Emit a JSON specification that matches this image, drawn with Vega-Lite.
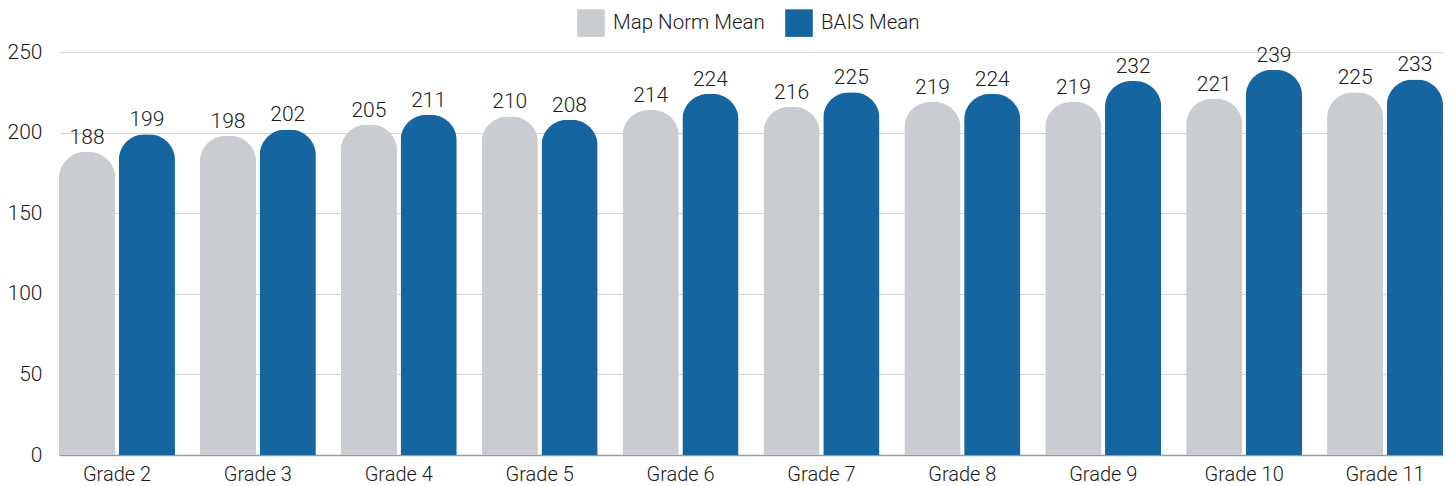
{
  "$schema": "https://vega.github.io/schema/vega-lite/v6.json",
  "autosize": "none",
  "width": 1384,
  "height": 403,
  "padding": {"left": 59, "top": 52, "right": 13, "bottom": 31},
  "background": "white",
  "config": {
    "font": "Roboto",
    "view": {"stroke": null}
  },
  "data": {
    "values": [
      {"grade": "Grade 2", "series": "Map Norm Mean", "value": 188},
      {"grade": "Grade 2", "series": "BAIS Mean", "value": 199},
      {"grade": "Grade 3", "series": "Map Norm Mean", "value": 198},
      {"grade": "Grade 3", "series": "BAIS Mean", "value": 202},
      {"grade": "Grade 4", "series": "Map Norm Mean", "value": 205},
      {"grade": "Grade 4", "series": "BAIS Mean", "value": 211},
      {"grade": "Grade 5", "series": "Map Norm Mean", "value": 210},
      {"grade": "Grade 5", "series": "BAIS Mean", "value": 208},
      {"grade": "Grade 6", "series": "Map Norm Mean", "value": 214},
      {"grade": "Grade 6", "series": "BAIS Mean", "value": 224},
      {"grade": "Grade 7", "series": "Map Norm Mean", "value": 216},
      {"grade": "Grade 7", "series": "BAIS Mean", "value": 225},
      {"grade": "Grade 8", "series": "Map Norm Mean", "value": 219},
      {"grade": "Grade 8", "series": "BAIS Mean", "value": 224},
      {"grade": "Grade 9", "series": "Map Norm Mean", "value": 219},
      {"grade": "Grade 9", "series": "BAIS Mean", "value": 232},
      {"grade": "Grade 10", "series": "Map Norm Mean", "value": 221},
      {"grade": "Grade 10", "series": "BAIS Mean", "value": 239},
      {"grade": "Grade 11", "series": "Map Norm Mean", "value": 225},
      {"grade": "Grade 11", "series": "BAIS Mean", "value": 233}
    ]
  },
  "encoding": {
    "x": {
      "field": "grade", "type": "nominal", "sort": null,
      "scale": {"paddingInner": 0.177, "paddingOuter": 0},
      "axis": {"title": null, "labelAngle": 0, "labelFontSize": 20, "labelFontWeight": 300, "labelColor": "#1a1a1a",
               "ticks": false, "domainColor": "#9a9a9a", "domainWidth": 1.5, "labelPadding": 9, "grid": false}
    },
    "xOffset": {
      "field": "series", "type": "nominal", "sort": ["Map Norm Mean", "BAIS Mean"],
      "scale": {"paddingInner": 0.06, "paddingOuter": 0}
    },
    "y": {
      "field": "value", "type": "quantitative",
      "scale": {"domain": [0, 250], "nice": false},
      "axis": {"title": null, "values": [0, 50, 100, 150, 200, 250], "labelFontSize": 21, "labelFontWeight": 300, "labelColor": "#1a1a1a",
               "ticks": false, "domain": false, "labelPadding": 17, "gridColor": "#d3d3d3", "gridWidth": 1.2}
    }
  },
  "layer": [
    {
      "mark": {"type": "bar", "cornerRadiusTopLeft": 26, "cornerRadiusTopRight": 26},
      "encoding": {
        "color": {
          "field": "series", "type": "nominal",
          "scale": {"domain": ["Map Norm Mean", "BAIS Mean"], "range": ["#c9ccd0", "#1565a1"]},
          "legend": {"title": null, "orient": "none", "direction": "horizontal", "legendX": 518, "legendY": -43,
                     "symbolType": "square", "symbolSize": 760, "symbolStrokeWidth": 0, "labelFontSize": 20.5, "labelFontWeight": 300,
                     "labelColor": "#1a1a1a", "columnPadding": 20, "labelOffset": 8}
        }
      }
    },
    {
      "mark": {"type": "text", "baseline": "bottom", "dy": -4, "fontSize": 21, "fontWeight": 300, "color": "#1a1a1a"},
      "encoding": {"text": {"field": "value", "type": "quantitative"}}
    }
  ]
}
